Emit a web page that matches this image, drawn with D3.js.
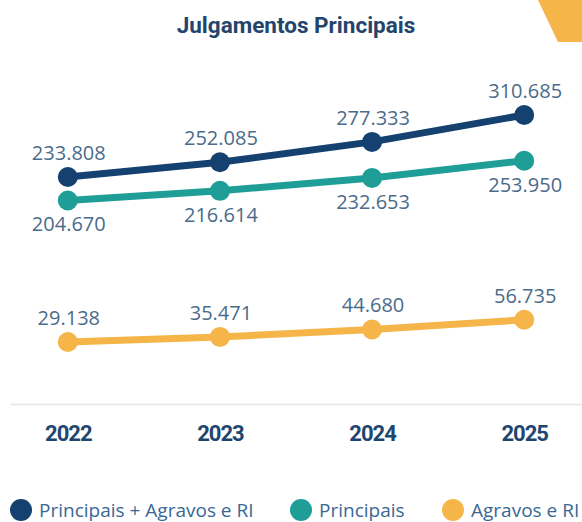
<!DOCTYPE html>
<html>
<head>
<meta charset="utf-8">
<script src="https://cdnjs.cloudflare.com/ajax/libs/d3/7.8.5/d3.min.js"></script>
<style>
  html, body { margin: 0; padding: 0; background: #fff; }
  svg { display: block; }
</style>
</head>
<body>
<div id="chart"></div>
<script>
var W = 582, H = 522;

// data
var years = ["2022", "2023", "2024", "2025"];
var totalVals = [233808, 252085, 277333, 310685];   // Principais + Agravos e RI
var principaisVals = [204670, 216614, 232653, 253950];
var agravosVals = [29138, 35471, 44680, 56735];
var seriesNames = ["Principais + Agravos e RI", "Principais", "Agravos e RI"];

var colNavy = "#14416f",
    colTeal = "#1f9e98",
    colOrange = "#f6b548";

var series = [
  {name: seriesNames[0], values: totalVals, color: colNavy, pos: "above"},
  {name: seriesNames[1], values: principaisVals, color: colTeal, pos: "below"},
  {name: seriesNames[2], values: agravosVals, color: colOrange, pos: "above"}
];

var svg = d3.select("#chart").append("svg")
  .attr("width", W)
  .attr("height", H);

// corner decoration
svg.append("polygon")
  .attr("points", "538,0 582,0 582,42 558,42")
  .attr("fill", colOrange);

// title
svg.append("text")
  .attr("x", 296)
  .attr("y", 33)
  .attr("text-anchor", "middle")
  .attr("font-family", "Roboto, sans-serif")
  .attr("font-weight", 700)
  .attr("font-size", 22.5)
  .attr("fill", "#24446b")
  .text("Julgamentos Principais");

var x = d3.scalePoint()
  .domain(years)
  .range([10, 582])
  .padding(0.38);

var y = d3.scaleLinear()
  .domain([0, 300000])
  .range([365.5, 123.6]);

// x axis
var xAxis = svg.append("g")
  .attr("transform", "translate(0,404)")
  .call(d3.axisBottom(x).tickSize(0).tickSizeOuter(0).tickPadding(21));

xAxis.select(".domain")
  .attr("stroke", "#e9e9e9")
  .attr("stroke-width", 2);

xAxis.selectAll("text")
  .attr("font-family", "Roboto, sans-serif")
  .attr("font-weight", 700)
  .attr("font-size", 22)
  .attr("letter-spacing", -1)
  .attr("fill", "#1e4670");

var line = d3.line()
  .x(function(d, i){ return x(years[i]); })
  .y(function(d){ return y(d); });

var fmt = d3.formatLocale({decimal: ",", thousands: ".", grouping: [3], currency: ["R$", ""]}).format(",");

series.forEach(function(s){
  var g = svg.append("g");

  g.append("path")
    .datum(s.values)
    .attr("d", line)
    .attr("fill", "none")
    .attr("stroke", s.color)
    .attr("stroke-width", 7)
    .attr("stroke-linecap", "round");

  g.selectAll("circle")
    .data(s.values)
    .enter().append("circle")
      .attr("cx", function(d, i){ return x(years[i]); })
      .attr("cy", function(d){ return y(d); })
      .attr("r", 10)
      .attr("fill", s.color);

  g.selectAll("text")
    .data(s.values)
    .enter().append("text")
      .attr("x", function(d, i){ return x(years[i]) + 1; })
      .attr("y", function(d){ return s.pos == "above" ? y(d) - 17 : y(d) + 31; })
      .attr("text-anchor", "middle")
      .attr("font-family", "'Open Sans', sans-serif")
      .attr("font-size", 20)
      .attr("fill", "#4b6b8a")
      .text(function(d){ return fmt(d); });
});

// legend
var legendX = [21, 301, 453];
var legend = svg.append("g")
  .selectAll("g")
  .data(series)
  .enter().append("g")
    .attr("transform", function(d, i){ return "translate(" + legendX[i] + ",510)"; });

legend.append("circle")
  .attr("r", 11)
  .attr("fill", function(d){ return d.color; });

legend.append("text")
  .attr("x", 18)
  .attr("y", 6.5)
  .attr("font-family", "'Open Sans', sans-serif")
  .attr("font-size", 19)
  .attr("fill", "#3a6795")
  .text(function(d){ return d.name; });
</script>
</body>
</html>
